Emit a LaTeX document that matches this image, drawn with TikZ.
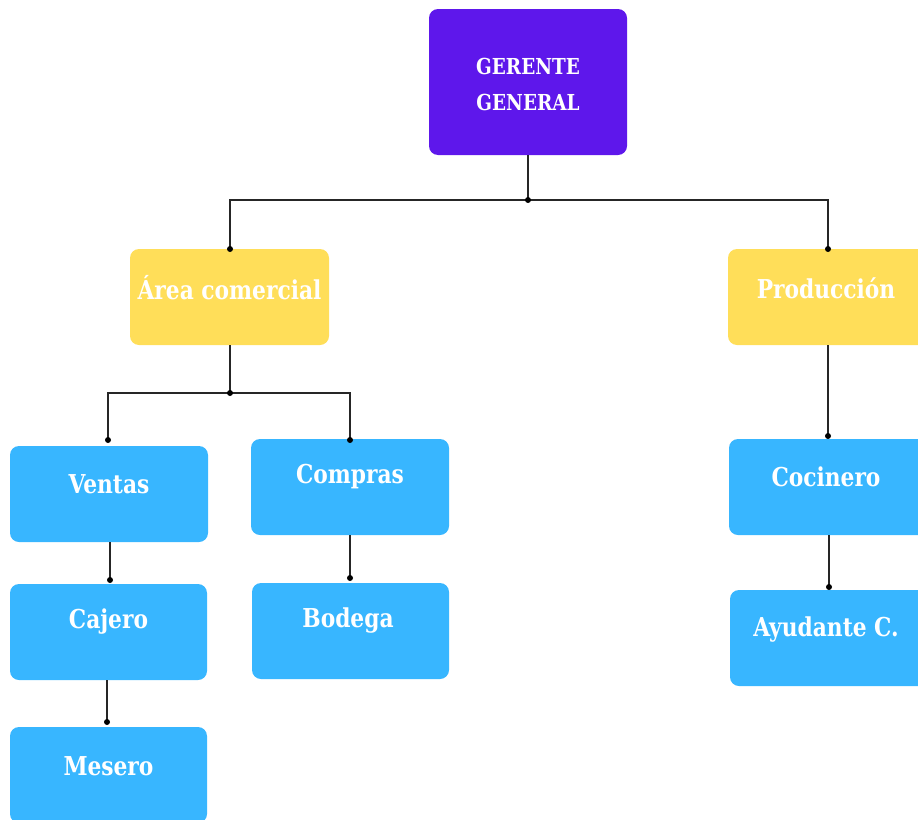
\documentclass[tikz,border=0pt]{standalone}
\usepackage{fontspec}
\setmainfont{DejaVu Serif Condensed}[FakeStretch=0.93]
\definecolor{cpurple}{HTML}{5E17EB}
\definecolor{cyellow}{HTML}{FFDE59}
\definecolor{cblue}{HTML}{38B6FF}
\tikzset{
  box/.style={rectangle, rounded corners=9pt, draw=none, minimum width=#1, minimum height=96pt, inner sep=0pt},
  box/.default=198pt,
  purplebox/.style={box=198pt, fill=cpurple, minimum height=146pt},
  yellowbox/.style={box=#1, fill=cyellow},
  yellowbox/.default=199pt,
  bluebox/.style={box=#1, fill=cblue},
  bluebox/.default=198pt,
  lbl/.style={text=white, font=\bfseries\fontsize{26}{30}\selectfont, inner sep=0pt},
  toplbl/.style={text=white, font=\bfseries\fontsize{22}{36}\selectfont, align=center, inner sep=0pt},
  conn/.style={draw=black!85, line width=1.2pt},
  dot/.style={circle, fill=black, inner sep=0pt, minimum size=6pt}
}
\begin{document}
\begin{tikzpicture}[x=1pt,y=-1pt]
\useasboundingbox (0,0) rectangle (918,819);
\clip (0,0) rectangle (918,819);
% boxes
\node[purplebox] (gg) at (528,82) {};
\node[yellowbox] (area) at (229.5,297) {};
\node[yellowbox=200pt] (prod) at (828,297) {};
\node[bluebox] (ventas) at (109,494) {};
\node[bluebox] (compras) at (350,487) {};
\node[bluebox=197pt] (cajero) at (108.5,632) {};
\node[bluebox=197pt] (mesero) at (108.5,775) {};
\node[bluebox=197pt] (bodega) at (350.5,631) {};
\node[bluebox] (cocinero) at (828,487) {};
\node[bluebox] (ayudante) at (829,638) {};
% labels
\node[toplbl] (tgg) at (528,84) {GERENTE\\GENERAL};
\node[lbl] (tarea) at (229.5,288) {Área comercial};
\node[lbl] (tprod) at (826,288) {Producción};
\node[lbl] (tventas) at (109,484) {Ventas};
\node[lbl] (tcompras) at (350,477) {Compras};
\node[lbl] (tcajero) at (108.5,622) {Cajero};
\node[lbl] (tmesero) at (108.5,766) {Mesero};
\node[lbl] (tbodega) at (348,621) {Bodega};
\node[lbl] (tcocinero) at (826,477) {Cocinero};
\node[lbl] (tayudante) at (826,630) {Ayudante C.};
% junctions
\coordinate (j1) at (528,200);
\coordinate (j2) at (230,393);
\coordinate (ea) at (230,249);
\coordinate (ep) at (828,249);
\coordinate (ev) at (108,440);
\coordinate (ec) at (350,440);
\coordinate (ecj) at (110,580);
\coordinate (em) at (107,722);
\coordinate (eb) at (350,578);
\coordinate (eco) at (828,436);
\coordinate (eay) at (829,587);
% connectors
\draw[conn] (gg.south) -- (j1);
\draw[conn] (j1) -| (ea);
\draw[conn] (j1) -| (ep);
\draw[conn] (area.south -| j2) -- (j2);
\draw[conn] (j2) -| (ev);
\draw[conn] (j2) -| (ec);
\draw[conn] (ventas.south -| ecj) -- (ecj);
\draw[conn] (cajero.south -| em) -- (em);
\draw[conn] (compras.south) -- (eb);
\draw[conn] (prod.south) -- (eco);
\draw[conn] (cocinero.south -| eay) -- (eay);
\foreach \p in {j1,j2,ea,ep,ev,ec,ecj,em,eb,eco,eay} \node[dot] at (\p) {};
\end{tikzpicture}
\end{document}
